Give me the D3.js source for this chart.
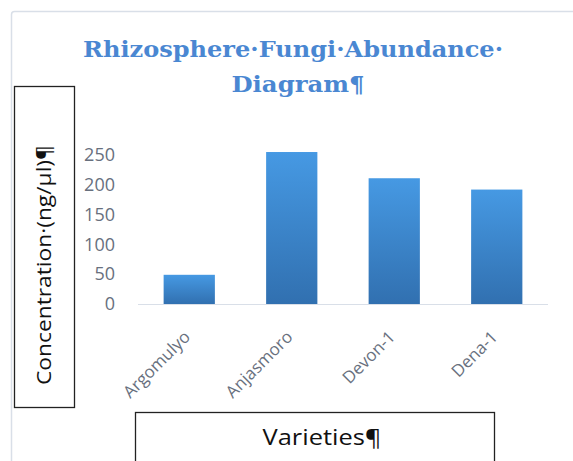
<html>
<script src='https://d3js.org/d3.v7.min.js'></script>
<head>
    <style>
        body { margin: 0; background: #fff; }
        svg text { font-family: 'Open Sans', sans-serif; }
    </style>
</head>
<body onload='init()'>
    <svg width=573 height=461></svg>
<script>
// values
const varieties = ["Argomulyo", "Anjasmoro", "Devon-1", "Dena-1"];
const concentration = [49, 255, 211, 192];
const yTicks = [0, 50, 100, 150, 200, 250];
const titleLines = ["Rhizosphere\u00b7Fungi\u00b7Abundance\u00b7", "Diagram\u00b6"];

function init() {
    const w = 573;
    const h = 461;
    const marginLeft = 138;
    const marginRight = 25;
    const marginTop = 155;   // y of the 250 tick
    const baseY = 304;

    var svg = d3.select('svg');

    // gradient for the bars
    var grad = svg.append("defs").append("linearGradient")
        .attr("id", "barGrad")
        .attr("x1", 0).attr("y1", 0).attr("x2", 0).attr("y2", 1);
    grad.append("stop").attr("offset", "0%").attr("stop-color", "#4699e3");
    grad.append("stop").attr("offset", "100%").attr("stop-color", "#3170b0");

    // outer chart border
    svg.append("rect")
        .attr("x", 11.5).attr("y", 11.5)
        .attr("width", w).attr("height", h)
        .attr("rx", 3)
        .style("fill", "none")
        .style("stroke", "#d9dfe8")
        .style("stroke-width", 1.5);

    // title
    var titleW = [420, 133];
    svg.append("g").selectAll("text")
        .data(titleLines)
        .enter()
        .append("text")
        .attr("x", function(d, i) { return i == 0 ? 293 : 298; })
        .attr("y", function(d, i) { return i == 0 ? 57 : 92; })
        .attr("text-anchor", "middle")
        .attr("textLength", function(d, i) { return titleW[i]; })
        .attr("lengthAdjust", "spacingAndGlyphs")
        .style("font-family", "'DejaVu Serif', serif")
        .style("font-weight", "bold")
        .style("font-size", "22px")
        .style("fill", "#4a87d2")
        .text(function(d) { return d; });

    var xs = d3.scaleBand()
        .domain(varieties)
        .range([marginLeft, w - marginRight])
        .paddingInner(0.5)
        .paddingOuter(0.25);

    var ys = d3.scaleLinear()
        .domain([0, 250])
        .range([baseY, marginTop]);

    // bars
    svg.append("g").selectAll("rect")
        .data(concentration)
        .enter()
        .append("rect")
        .attr("x", function(d, i) { return xs(varieties[i]); })
        .attr("y", function(d) { return ys(d); })
        .attr("width", xs.bandwidth())
        .attr("height", function(d) { return baseY - ys(d); })
        .style("fill", "url(#barGrad)");

    // baseline
    svg.append("line")
        .attr("x1", marginLeft).attr("x2", w - marginRight)
        .attr("y1", baseY + 0.5).attr("y2", baseY + 0.5)
        .style("stroke", "#d9dfe8")
        .style("stroke-width", 1.2);

    // y axis labels
    var yAxis = svg.append("g")
        .attr("transform", "translate(" + (marginLeft - 20) + ",0)")
        .call(d3.axisLeft(ys).tickValues(yTicks).tickSize(0).tickPadding(3));
    yAxis.select(".domain").remove();
    yAxis.selectAll("text")
        .style("font-size", "18px")
        .style("fill", "#68707e");

    // x axis labels
    var xAxis = svg.append("g")
        .attr("transform", "translate(0," + baseY + ")")
        .call(d3.axisBottom(xs).tickSize(0));
    xAxis.select(".domain").remove();
    xAxis.selectAll("text")
        .attr("text-anchor", "end")
        .attr("y", 0)
        .attr("dy", 0)
        .attr("transform", "translate(2,34) rotate(-45)")
        .style("font-size", "17px")
        .style("fill", "#68707e");

    // y title box
    svg.append("rect")
        .attr("x", 14.5).attr("y", 86.5)
        .attr("width", 60).attr("height", 321)
        .style("fill", "#fff")
        .style("stroke", "#222")
        .style("stroke-width", 1.3);
    svg.append("text")
        .attr("transform", "translate(51,265) rotate(-90)")
        .attr("text-anchor", "middle")
        .attr("textLength", 240)
        .attr("lengthAdjust", "spacingAndGlyphs")
        .style("font-size", "20px")
        .style("fill", "#111")
        .text("Concentration\u00b7(ng/\u00b5l)\u00b6");

    // x title box
    svg.append("rect")
        .attr("x", 135.5).attr("y", 412.5)
        .attr("width", 359).attr("height", 60)
        .style("fill", "#fff")
        .style("stroke", "#222")
        .style("stroke-width", 1.3);
    svg.append("text")
        .attr("x", 322).attr("y", 445)
        .attr("text-anchor", "middle")
        .attr("textLength", 119)
        .attr("lengthAdjust", "spacingAndGlyphs")
        .style("font-size", "21px")
        .style("fill", "#111")
        .text("Varieties\u00b6");
}
</script>
</body>
</html>
